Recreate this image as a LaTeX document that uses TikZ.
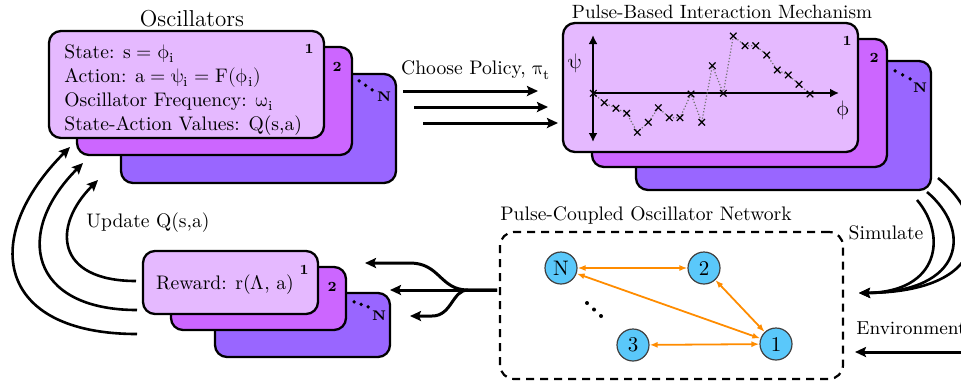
\documentclass[tikz,border=0pt]{standalone}
\usepackage[math-style=upright]{unicode-math}
\setmathfont{Latin Modern Math}
\usetikzlibrary{arrows.meta,calc}
\definecolor{boxA}{HTML}{E5B9FF}
\definecolor{boxB}{HTML}{CC66FF}
\definecolor{boxC}{HTML}{9966FF}
\definecolor{nodeblue}{HTML}{5AC8FA}
\definecolor{edgeorange}{HTML}{FF8C00}
\begin{document}
\begin{tikzpicture}[x=0.5pt,y=-0.5pt,
  card/.style={draw=black,line width=1.15pt,rounded corners=6pt,inner sep=0pt},
  txt/.style={font=\fontsize{9.8}{12}\selectfont,inner sep=0pt},
  numlbl/.style={font=\fontsize{7}{8}\selectfont\bfseries,inner sep=0pt},
  bigarrow/.style={line width=1.5pt,-{Stealth[length=5.5pt,width=5pt,inset=1pt]}},
  curvearrow/.style={line width=1.3pt,-{Stealth[length=5.5pt,width=5pt,inset=1pt]}},
  axisline/.style={line width=1.2pt},
  pconn/.style={draw=edgeorange,line width=0.9pt,{Latex[length=4pt,width=3pt]}-{Latex[length=4pt,width=3pt]}},
  oscnode/.style={circle,draw=black!75,line width=0.6pt,fill=nodeblue,minimum size=16pt,inner sep=0pt,font=\fontsize{10.5}{12}\selectfont},
  netbox/.style={draw=black,line width=1.1pt,dash pattern=on 4pt off 3pt,rounded corners=7pt,inner sep=0pt},
  stackdot/.style={circle,fill=black,inner sep=0pt,minimum size=1.9pt}
]
\useasboundingbox (0,0) rectangle (961,387);
\clip (0,0) rectangle (961,387);

% ---------------- Oscillators stack ----------------
\node[card,fill=boxC,minimum width=137.5pt,minimum height=54.5pt] (osc3) at (258.5,128.5) {};
\node[card,fill=boxB,minimum width=137.5pt,minimum height=54pt] (osc2) at (214.5,101) {};
\node[card,fill=boxA,minimum width=137.5pt,minimum height=53.5pt] (osc1) at (186.5,84.5) {};
\node[numlbl] (osc1num) at ([shift={(-16,19)}]osc1.north east) {1};
\node[numlbl] (osc2num) at ([shift={(-16,21)}]osc2.north east) {2};
\node[stackdot] (osc3d1) at ([shift={(-38,8)}]osc3.north east) {};
\node[stackdot] (osc3d2) at ([shift={(-31.5,12.5)}]osc3.north east) {};
\node[stackdot] (osc3d3) at ([shift={(-25,17)}]osc3.north east) {};
\node[numlbl] (osc3num) at ([shift={(-13,24)}]osc3.north east) {N};
\node[font=\fontsize{11.5}{14}\selectfont,inner sep=0pt] (osctitle) at (192,19) {Oscillators};
\node[txt,anchor=base west] (oscl1) at (64,58) {State: $s = \phi_{i}$};
\node[txt,anchor=base west] (oscl2) at (64,82) {Action: $a = \psi_{i} = F(\phi_{i})$};
\node[txt,anchor=base west] (oscl3) at (64,106) {Oscillator Frequency: $\omega_{i}$};
\node[txt,anchor=base west] (oscl4) at (64,130) {State-Action Values: Q(s,a)};

% ---------------- Pulse-based stack ----------------
\node[card,fill=boxC,minimum width=147.5pt,minimum height=64.5pt] (pbi3) at (783.5,125.5) {};
\node[card,fill=boxB,minimum width=147.5pt,minimum height=64pt] (pbi2) at (739.5,103) {};
\node[card,fill=boxA,minimum width=147.5pt,minimum height=64.5pt] (pbi1) at (710.5,87.5) {};
\node[numlbl] (pbi1num) at ([shift={(-12,19)}]pbi1.north east) {1};
\node[numlbl] (pbi2num) at ([shift={(-14,20)}]pbi2.north east) {2};
\node[stackdot] (pbi3d1) at ([shift={(-37,11)}]pbi3.north east) {};
\node[stackdot] (pbi3d2) at ([shift={(-29.5,15)}]pbi3.north east) {};
\node[stackdot] (pbi3d3) at ([shift={(-22,19)}]pbi3.north east) {};
\node[numlbl] (pbi3num) at ([shift={(-12,28)}]pbi3.north east) {N};
\node[txt,font=\fontsize{9.6}{12}\selectfont] (pbititle) at (722,12) {Pulse-Based Interaction Mechanism};

% chart
\draw[axisline,{Latex[length=4.5pt,width=4.5pt]}-{Latex[length=4.5pt,width=4.5pt]}] (593,35) -- (593,142);
\draw[axisline,-{Latex[length=4.5pt,width=4.5pt]}] (593,93) -- (839,93);
\node[txt,font=\fontsize{10.5}{12}\selectfont] (psilbl) at (575,63) {$\psi$};
\node[txt,font=\fontsize{10.5}{12}\selectfont] (philbl) at (843,110) {$\phi$};
\draw[black!55,densely dotted,line width=0.6pt] plot coordinates {(593.3,93.3) (604.3,102.7) (616,108.3) (626.7,113.3) (637.3,132.3) (648.3,122.3) (658.3,107.7) (669.3,117.7) (680,117.7) (691,94) (701.7,122.3) (712.3,65.7) (723.3,93.3) (733.3,36) (745,45.7) (755.7,45.7) (766.7,55) (777.3,70) (788.3,75) (799,84.3) (810,94)};
\draw[black,line width=0.6pt] plot[only marks,mark=x,mark size=2.3pt] coordinates {(593.3,93.3) (604.3,102.7) (616,108.3) (626.7,113.3) (637.3,132.3) (648.3,122.3) (658.3,107.7) (669.3,117.7) (680,117.7) (691,94) (701.7,122.3) (712.3,65.7) (723.3,93.3) (733.3,36) (745,45.7) (755.7,45.7) (766.7,55) (777.3,70) (788.3,75) (799,84.3) (810,94)};

% ---------------- Choose policy arrows ----------------
\node[txt] (policylbl) at (476,70) {Choose Policy, $\pi_{t}$};
\coordinate (cp1s) at (403,91);  \coordinate (cp1e) at (538,91);
\coordinate (cp2s) at (414,107); \coordinate (cp2e) at (548,107);
\coordinate (cp3s) at (423,123); \coordinate (cp3e) at (558,123);
\draw[bigarrow] (cp1s) -- (cp1e);
\draw[bigarrow] (cp2s) -- (cp2e);
\draw[bigarrow] (cp3s) -- (cp3e);

% ---------------- Reward stack ----------------
\node[card,fill=boxC,minimum width=87.5pt,minimum height=32pt] (rew3) at (302.5,325) {};
\node[card,fill=boxB,minimum width=87.5pt,minimum height=31.5pt] (rew2) at (258.5,298.5) {};
\node[card,fill=boxA,minimum width=87.5pt,minimum height=31.5pt] (rew1) at (230.5,282.5) {};
\node[numlbl] (rew1num) at ([shift={(-15,20)}]rew1.north east) {1};
\node[numlbl] (rew2num) at ([shift={(-15,21)}]rew2.north east) {2};
\node[stackdot] (rew3d1) at ([shift={(-37,10)}]rew3.north east) {};
\node[stackdot] (rew3d2) at ([shift={(-30,12.5)}]rew3.north east) {};
\node[stackdot] (rew3d3) at ([shift={(-23,15)}]rew3.north east) {};
\node[numlbl] (rew3num) at ([shift={(-12,24)}]rew3.north east) {N};
\node[txt] (rewtxt) at (225,285) {Reward: r($\Lambda$, a)};

% ---------------- Update arcs ----------------
\node[txt] (updlbl) at (148,223) {Update Q(s,a)};
\coordinate (u1s) at (136,281); \coordinate (u1e) at (98,180);
\coordinate (u2s) at (137,310); \coordinate (u2e) at (83,163);
\coordinate (u3s) at (137,334); \coordinate (u3e) at (70,147);
\draw[curvearrow] (u1s) .. controls (55,281) and (52,226) .. (u1e);
\draw[curvearrow] (u2s) .. controls (30,310) and (13,233) .. (u2e);
\draw[curvearrow] (u3s) .. controls (-5,334) and (-20,237) .. (u3e);

% ---------------- Network ----------------
\node[netbox,minimum width=171.5pt,minimum height=73.5pt] (net) at (671.5,305.5) {};
\node[txt] (nettitle) at (646,215) {Pulse-Coupled Oscillator Network};
\node[oscnode] (nN) at (561,268) {N};
\node[oscnode] (n2) at (704,268) {2};
\node[oscnode] (n3) at (633,345) {3};
\node[oscnode] (n1) at (776,344) {1};
\draw[pconn] (nN) -- (n2);
\draw[pconn] (n2) -- (n1);
\draw[pconn] (n1) -- (nN);
\draw[pconn] (n3) -- (n1);
\node[stackdot,minimum size=2pt] (netd1) at (587,303) {};
\node[stackdot,minimum size=2pt] (netd2) at (594,309.5) {};
\node[stackdot,minimum size=2pt] (netd3) at (601,316) {};

% ---------------- Network to reward ----------------
\coordinate (trunk) at (497,290);
\coordinate (split) at (468,290);
\coordinate (rwa) at (365,263);
\coordinate (rwb) at (390,290);
\coordinate (rwc) at (410,316);
\draw[bigarrow] (trunk) -- (split) .. controls (440,290) and (440,263) .. (410,263) -- (rwa);
\draw[bigarrow] (trunk) -- (split) -- (rwb);
\draw[bigarrow] (trunk) -- (split) .. controls (452,290) and (452,316) .. (432,316) -- (rwc);

% ---------------- Simulate / Environment ----------------
\node[txt] (simlbl) at (886,233) {Simulate};
\node[txt,font=\fontsize{9.4}{12}\selectfont,anchor=west] (envlbl) at (856,328) {Environment};
\coordinate (simtip) at (859,293);
\coordinate (s1) at (917,200);
\coordinate (s2) at (927,192);
\coordinate (s3) at (938,178);
\draw[curvearrow] (s1) .. controls (947,235) and (940,292) .. (simtip);
\draw[curvearrow] (s2) .. controls (972,230) and (965,292) .. (simtip);
\draw[curvearrow] (s3) .. controls (995,225) and (985,292) .. (simtip);
\coordinate (envs) at (975,352);
\coordinate (enve) at (855,352);
\draw[bigarrow] (envs) -- (enve);
\end{tikzpicture}
\end{document}
